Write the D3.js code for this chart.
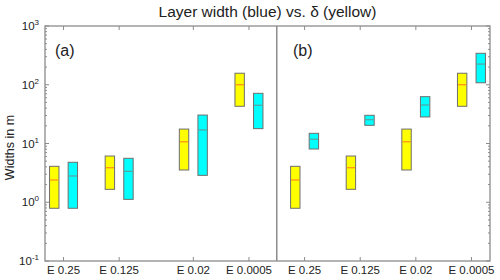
<!DOCTYPE html>
<html><head><meta charset="utf-8">
<script src="https://cdn.jsdelivr.net/npm/d3@7"></script>
<style>body{margin:0;background:#fff}svg{display:block}text{font-family:"Liberation Sans",Arial,sans-serif}</style>
</head><body><svg id="c" width="500" height="280"></svg>
<script>
const categories = ["E 0.25","E 0.125","E 0.02","E 0.0005"];
const tickPosA = [1/3, 4/3, 8/3, 11/3];
const tickPosB = [14/3, 17/3, 20/3, 23/3];
// [low, median, high]
const yellowA = [[0.79,2.39,4.09],[1.66,3.87,6.12],[3.54,10.7,17.6],[43,100,157]];
const cyanA   = [[0.79,2.80,4.79],[1.12,3.36,5.60],[2.87,17.0,30.5],[17.9,44.7,71.5]];
const yellowB = [[0.79,2.39,4.09],[1.66,3.87,6.12],[3.54,10.7,17.6],[43,100,157]];
const cyanB   = [[8.06,11.8,14.9],[20.4,25.4,30.2],[28.3,45.2,62.7],[108,225,343]];
const yTicks = [0.1,1,10,100,1000];
const divider = 25/6;

const svg = d3.select("#c");
const L=45,R=490,T=26,B=261;
const x = d3.scaleLinear().domain([0,8]).range([L,R]);
const y = d3.scaleLog().domain([0.1,1000]).range([B,T]);
const axisCol="#8c8c8c";
const bw = 9.4, off = 9.3;

function drawBoxes(data, pos, dx, fill, medCol){
  const g = svg.append("g");
  data.forEach((d,i)=>{
    const cx = x(pos[i])+dx;
    g.append("rect").attr("x",cx-bw/2).attr("y",y(d[2])).attr("width",bw).attr("height",y(d[0])-y(d[2]))
      .attr("fill",fill).attr("stroke","#6e6e6e").attr("stroke-width",1);
    g.append("line").attr("x1",cx-bw/2+0.5).attr("x2",cx+bw/2-0.5).attr("y1",y(d[1])).attr("y2",y(d[1]))
      .attr("stroke",medCol).attr("stroke-width",1.2);
  });
}
drawBoxes(yellowA, tickPosA, -off, "#ffff00", "#ff8c1a");
drawBoxes(cyanA, tickPosA, off, "#00ffff", "#5aa0a0");
drawBoxes(yellowB, tickPosB, -off, "#ffff00", "#ff8c1a");
drawBoxes(cyanB, tickPosB, off, "#00ffff", "#5aa0a0");

// frame
svg.append("rect").attr("x",L).attr("y",T).attr("width",R-L).attr("height",B-T)
  .attr("fill","none").attr("stroke",axisCol).attr("stroke-width",1.3);
svg.append("line").attr("x1",x(divider)).attr("x2",x(divider)).attr("y1",T).attr("y2",B)
  .attr("stroke",axisCol).attr("stroke-width",1.5);

// y axes (left & right) with minor ticks
const minor=[];
for(let e=-1;e<3;e++) for(let k=2;k<=9;k++) minor.push(k*Math.pow(10,e));
const gl = svg.append("g");
yTicks.forEach(v=>{
  gl.append("line").attr("x1",L).attr("x2",L+4).attr("y1",y(v)).attr("y2",y(v)).attr("stroke",axisCol);
  gl.append("line").attr("x1",R).attr("x2",R-4).attr("y1",y(v)).attr("y2",y(v)).attr("stroke",axisCol);
});
minor.forEach(v=>{
  gl.append("line").attr("x1",L).attr("x2",L+2).attr("y1",y(v)).attr("y2",y(v)).attr("stroke",axisCol);
  gl.append("line").attr("x1",R).attr("x2",R-2).attr("y1",y(v)).attr("y2",y(v)).attr("stroke",axisCol);
});
yTicks.forEach(v=>{
  const t = gl.append("text").attr("x",L-6).attr("y",y(v)+4).attr("text-anchor","end")
    .attr("font-size",11.5).attr("fill","#222");
  t.append("tspan").text("10");
  t.append("tspan").attr("dy",-5).attr("font-size",8).text(Math.round(Math.log10(v)));
});

// x ticks
const allPos = tickPosA.concat(tickPosB);
const allCats = categories.concat(categories);
const gx = svg.append("g");
allPos.forEach((p,i)=>{
  gx.append("line").attr("x1",x(p)).attr("x2",x(p)).attr("y1",B).attr("y2",B-4).attr("stroke",axisCol);
  gx.append("line").attr("x1",x(p)).attr("x2",x(p)).attr("y1",T).attr("y2",T+4).attr("stroke",axisCol);
  gx.append("text").attr("x",x(p)).attr("y",274).attr("text-anchor","middle")
    .attr("font-size",11.5).attr("fill","#222").text(allCats[i]);
});

// labels
svg.append("text").attr("x",(L+R)/2).attr("y",17).attr("text-anchor","middle")
  .attr("font-size",15.5).attr("fill","#222").text("Layer width (blue) vs. δ (yellow)");
svg.append("text").attr("transform",`translate(14,${(T+B)/2+4}) rotate(-90)`).attr("text-anchor","middle")
  .attr("font-size",12.5).attr("fill","#222").text("Widths in m");
svg.append("text").attr("x",55).attr("y",56).attr("font-size",16).attr("fill","#222").text("(a)");
svg.append("text").attr("x",293).attr("y",56).attr("font-size",16).attr("fill","#222").text("(b)");
</script></body></html>
